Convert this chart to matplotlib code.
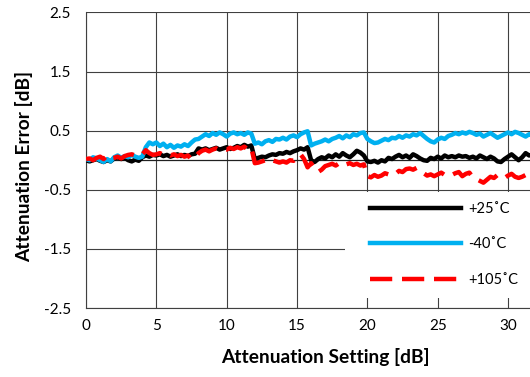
import numpy as np
import matplotlib.pyplot as plt
from matplotlib.patches import Rectangle

plt.rcParams['font.family'] = ['Lato', 'DejaVu Sans']

# attenuation setting, 0.25 dB steps
atten = np.arange(128) * 0.25

err_25c = [0.0, -0.02, 0.0, 0.02, -0.01, -0.03, 0.0, -0.02,
           0.03, 0.05, 0.02, 0.04, 0.0, -0.02, 0.01, -0.01,
           0.05, 0.08, 0.06, 0.09, 0.08, 0.1, 0.07, 0.09,
           0.06, 0.08, 0.1, 0.07, 0.09, 0.07, 0.1, 0.11,
           0.2, 0.18, 0.2, 0.17, 0.19, 0.21, 0.18, 0.2,
           0.22, 0.19, 0.21, 0.24, 0.22, 0.26, 0.23, 0.25,
           0.02, 0.04, 0.06, 0.05, 0.08, 0.1, 0.09, 0.12,
           0.11, 0.14, 0.12, 0.15, 0.17, 0.2, 0.18, 0.22,
           0.0, -0.03, 0.02, 0.05, 0.03, 0.08, 0.05, 0.1,
           0.06, 0.12, 0.08, 0.05, 0.1, 0.16, 0.13, 0.08,
           -0.02, -0.03, -0.01, -0.04, 0.0, -0.02, 0.04, 0.02,
           0.06, 0.09, 0.05, 0.08, 0.04, 0.1, 0.07, 0.03,
           0.0, -0.01, 0.04, 0.02, 0.06, 0.03, 0.08, 0.05,
           0.07, 0.05, 0.08, 0.06, 0.07, 0.04, 0.06, 0.03,
           0.08, 0.05, 0.02, 0.06, 0.03, -0.02, -0.03, 0.02,
           0.06, 0.1, 0.05, 0.0, 0.05, 0.12, 0.08, 0.1]

err_m40c = [0.02, 0.0, 0.05, 0.03, 0.0, -0.03, 0.02, -0.02,
            0.05, 0.08, 0.04, 0.07, 0.05, 0.09, 0.06, 0.04,
            0.06, 0.22, 0.3, 0.27, 0.3, 0.24, 0.28, 0.22,
            0.26, 0.21, 0.25, 0.23, 0.27, 0.24, 0.3, 0.35,
            0.36, 0.4, 0.44, 0.41, 0.46, 0.43, 0.47, 0.44,
            0.4, 0.45, 0.47, 0.44, 0.46, 0.43, 0.47, 0.45,
            0.28, 0.3, 0.27, 0.32, 0.34, 0.31, 0.36, 0.35,
            0.38, 0.35, 0.4, 0.42, 0.39, 0.44, 0.47, 0.49,
            0.25, 0.28, 0.3, 0.32, 0.35, 0.32, 0.36, 0.38,
            0.41, 0.37, 0.42, 0.39, 0.44, 0.42, 0.46, 0.47,
            0.36, 0.32, 0.29, 0.3, 0.33, 0.36, 0.34, 0.38,
            0.37, 0.41, 0.38, 0.42, 0.4, 0.44, 0.42, 0.46,
            0.41, 0.36, 0.32, 0.3, 0.35, 0.38, 0.36, 0.41,
            0.43, 0.46, 0.44, 0.47, 0.45, 0.48, 0.46, 0.43,
            0.45, 0.4, 0.43, 0.46, 0.42, 0.38, 0.41, 0.44,
            0.47, 0.44, 0.48, 0.46, 0.43, 0.4, 0.44, 0.42]

err_105c = [0.02, 0.03, 0.0, 0.04, 0.06, 0.02, 0.08, 0.03,
            0.04, 0.06, 0.03, 0.07, 0.09, 0.1, 0.08, 0.07,
            0.1, 0.17, 0.12, 0.09, 0.1, 0.12, 0.09, 0.11,
            0.08, 0.1, 0.07, 0.09, 0.06, 0.08, 0.02, 0.04,
            0.12, 0.16, 0.18, 0.15, 0.18, 0.2, 0.17, 0.19,
            0.18, 0.21, 0.19, 0.22, 0.2, 0.23, 0.18, 0.21,
            -0.05, -0.04, -0.02, 0.0, -0.03, 0.0, -0.02, -0.04,
            -0.02, -0.04, 0.0, -0.01, 0.05, 0.1, 0.02, -0.12,
            -0.05, -0.15, -0.2, -0.16, -0.1, -0.08, -0.06, -0.09,
            -0.05, -0.03, -0.07, -0.05, -0.08, -0.06, -0.09, -0.07,
            -0.27, -0.29, -0.25, -0.28, -0.26, -0.22, -0.24, -0.21,
            -0.23, -0.18, -0.2, -0.15, -0.14, -0.16, -0.13, -0.17,
            -0.22, -0.26, -0.24, -0.27, -0.24, -0.21, -0.25, -0.23,
            -0.25, -0.22, -0.2, -0.27, -0.23, -0.21, -0.29, -0.32,
            -0.35, -0.38, -0.33, -0.28, -0.3, -0.25, -0.27, -0.3,
            -0.26, -0.23, -0.28, -0.3, -0.28, -0.25, -0.29, -0.27]

labels = ['+25˚C', '-40˚C', '+105˚C']
colors = ['#000000', '#00B0F0', '#FF0000']
x_ticks = [0, 5, 10, 15, 20, 25, 30]
y_ticks = [-2.5, -1.5, -0.5, 0.5, 1.5, 2.5]

fig = plt.figure(figsize=(5.3, 3.77), dpi=100)
ax = fig.add_axes([0.1623, 0.183, 0.929, 0.784])

ax.plot(atten, err_25c, color=colors[0], lw=3.2, label=labels[0], zorder=3)
ax.plot(atten, err_m40c, color=colors[1], lw=3.2, label=labels[1], zorder=3)
ax.plot(atten, err_105c, color=colors[2], lw=3.2, dashes=(5, 2.2),
        label=labels[2], zorder=3)

ax.set_xlim(0, 35)
ax.set_ylim(-2.5, 2.5)
ax.set_xticks(x_ticks)
ax.set_xticklabels([str(t) for t in x_ticks])
ax.set_yticks(y_ticks)
ax.set_yticklabels([str(t) for t in y_ticks])
ax.grid(True, color='#404040', lw=0.8)
ax.axvline(35, color='#404040', lw=0.8)
ax.axhline(0, color='#202020', lw=0.9, zorder=2)
for s in ['top', 'right']:
    ax.spines[s].set_visible(False)
ax.spines['left'].set_color('#404040')
ax.spines['bottom'].set_color('#404040')
ax.tick_params(axis='both', length=0, labelsize=11)
ax.tick_params(axis='x', pad=8)
ax.tick_params(axis='y', pad=11)

ax.set_xlabel('Attenuation Setting [dB]', fontsize=13.8, fontweight='bold')
ax.xaxis.set_label_coords(0.487, -0.135)
ax.set_ylabel('Attenuation Error [dB]', fontsize=13.8, fontweight='bold')
ax.yaxis.set_label_coords(-0.108, 0.48)

# white box behind legend hides gridlines
ax.add_patch(Rectangle((0.526, 0.034), 0.6, 0.358, transform=ax.transAxes,
                       facecolor='white', edgecolor='none', zorder=4))
ax.legend(loc='upper left', bbox_to_anchor=(0.577, 0.36), frameon=False,
          borderpad=0, borderaxespad=0, handlelength=6.2, handletextpad=0.55,
          labelspacing=1.5, fontsize=10.5)

fig.savefig('out.png', dpi=100)
